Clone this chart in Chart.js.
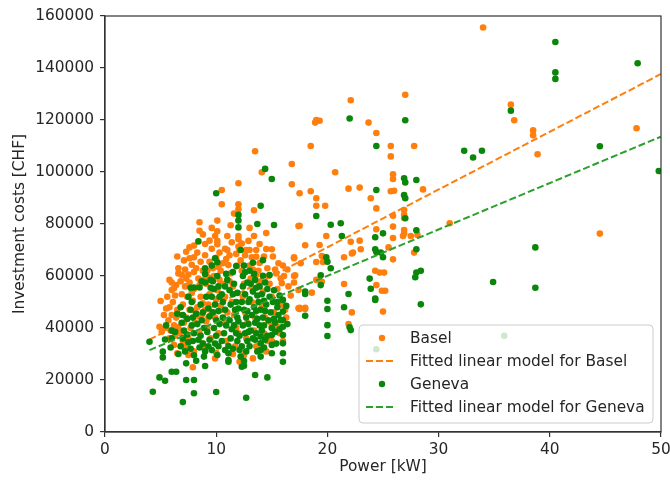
<!DOCTYPE html>
<html>
<head>
<meta charset="utf-8">
<script src="https://cdn.jsdelivr.net/npm/chart.js@4.4.0/dist/chart.umd.min.js"></script>
<style>
  html, body { margin: 0; padding: 0; background: #fff; }
  #wrap { width: 670px; height: 480px; }
</style>
</head>
<body>
<div id="wrap"><canvas id="grafik" width="670" height="480"></canvas></div>
<script>
// Basel installations [power kW, cost CHF]
const basel = [
  [34.0,155600],[22.1,127600],[27.0,129700],[19.0,120000],[19.3,119700],[18.9,119000],[23.7,119000],
  [24.4,115000],[18.5,110000],[25.7,110000],[27.8,110000],[25.7,106000],[36.5,125900],[36.8,119900],
  [38.5,116000],[38.5,114100],[38.9,106800],[47.8,116800],[44.5,76300],[13.5,108000],
  [16.8,103100],[20.7,99900],[16.8,95300],[25.9,99100],[25.9,97300],[21.9,93600],[22.9,94000],
  [25.7,92600],[26.0,92800],[28.6,93300],[17.5,91800],[18.5,92600],[19.0,89900],[19.0,87000],
  [19.8,87000],[23.9,89900],[24.4,86000],[26.9,85400],[26.9,83500],[25.9,83200],[26.9,82300],
  [17.5,79300],[25.9,79000],[24.4,78000],[26.9,77700],[26.9,76400],[26.8,75400],[19.9,75400],
  [25.9,74600],[27.5,75400],[28.1,75800],[31.0,80300],[22.1,73200],[22.9,73600],[18.0,71800],
  [19.3,71900],[22.3,69000],[23.0,70300],[25.5,71000],[27.8,69000],[17.0,67200],[17.6,64900],
  [19.0,65400],[19.5,67700],[19.6,65400],[21.5,67200],[22.2,68700],[25.9,66400],[24.3,62000],
  [24.7,61300],[25.1,61300],[17.1,60300],[19.0,58500],[19.5,57800],[21.5,56900],[24.4,56500],
  [24.9,54300],[25.2,54300],[18.6,53600],[17.5,47800],[18.0,47800],[17.5,47300],[18.0,47300],
  [22.2,46000],[21.9,41500],[25.0,46300],
  [14.1,99900],[12.0,95700],[10.5,93100],[12.0,87600],[12.0,85700],[10.5,87600],[13.4,85300],
  [8.5,80700],[8.5,77400],[10.1,81300],[17.4,79200],[10.1,77200],[9.9,75400],[11.0,75400],
  [12.0,75400],[12.0,74100],[9.4,73600],[9.0,72300],[8.0,71700],[10.1,73500],[10.1,72200],
  [12.9,73500],[13.4,75400],[13.9,72300],[12.0,71300],[12.1,70000],[7.3,69300],[7.6,66800],
  [8.0,67200],[7.8,64300],[12.7,70000],[13.6,70000],[14.5,70400],[15.0,70300],[10.6,64900],
  [11.1,64200],[13.2,67200],[13.6,67400],[15.6,64900],[16.0,64000],[17.0,66800],[6.6,61000],
  [7.5,60600],[17.0,60000],[15.9,57200],[6.4,56500],[6.2,55300],[6.0,54600],[5.0,50400],
  [17.4,54600],[7.9,24900],[4.9,40500],[5.1,38600],[6.5,30300],[7.5,29600],[9.9,28300],
  [13.3,28300],[15.0,40500],[14.8,42400],[16.0,48800],[17.4,47600],[15.7,38000],[12.1,27000],
  [5.6,52000],[5.8,48000],[6.0,45000],[5.7,43000],[6.2,41000],[5.9,39000],[6.3,37000],[6.1,50000],
  [6.5,47000],[6.8,58000],[6.9,53000],[7.0,49000],[6.7,45000],[7.1,42000],[6.8,38000],[7.0,35000],
  [7.2,56000],[7.4,52000],[7.6,47000],[7.3,44000],[7.7,40000],[7.5,36000],[7.4,33000],
  [8.2,63000],[8.4,59000],[8.0,55000],[8.6,52000],[8.3,48000],[8.7,45000],[8.1,42000],[8.5,38000],
  [8.8,34000],[9.0,68000],[9.2,62000],[9.1,57000],[9.4,53000],[9.3,49000],[9.6,46000],[9.2,40000],
  [9.5,36000],[9.8,60000],[9.7,55000],[10.0,51000],[9.9,44000],[10.2,38000],[10.3,69000],
  [10.4,62000],[10.6,57000],[10.8,52000],[10.5,47000],[10.7,42000],[10.9,35000],
  [11.2,68000],[11.3,61000],[11.5,56000],[11.4,50000],[11.6,45000],[11.8,40000],[11.7,33000],
  [12.2,66000],[12.3,62000],[12.5,57000],[12.4,52000],[12.6,46000],[12.8,42000],[12.7,36000],
  [13.0,64000],[13.1,59000],[13.3,55000],[13.2,50000],[13.5,44000],[13.4,39000],[13.6,33000],
  [13.8,62000],[14.0,58000],[14.2,54000],[14.1,48000],[14.4,44000],[14.3,38000],[14.6,63000],
  [14.8,57000],[15.0,52000],[15.2,46000],[15.4,61000],[15.5,55000],[15.8,50000],[16.3,44000],
  [16.5,56000],[16.1,60000],[7.0,33000],[8.0,31000],[9.0,32000],[10.0,30500],[11.5,30000],
  [12.5,29500],[14.5,31000],[16.0,35000],[15.0,35000],
  [5.3,45000],[5.5,47500],[5.4,40000],[5.8,36000],[6.0,57500],[6.3,52500],[6.4,44000],[6.6,40000],
  [6.6,63000],[6.9,60500],[7.1,66000],[7.2,62500],[7.3,59000],[7.6,57500],[7.8,53500],[7.9,50500],
  [8.1,46500],[8.3,44500],[8.0,61500],[8.3,69000],[8.6,65500],[8.8,62000],[8.9,58500],[8.5,56500],
  [8.8,49500],[9.0,47000],[9.3,44000],[9.1,42500],[9.4,65500],[9.6,70500],[9.7,63000],[9.3,59500],
  [10.0,67000],[10.2,63500],[10.3,58500],[10.1,54500],[10.4,48500],[10.9,66500],[11.0,70000],
  [11.4,73000],[11.2,58000],[11.8,68500],[11.9,64000],[12.3,72500],[12.6,68000],[13.0,70000],
  [13.3,62500],[13.6,60500],[13.9,65000],[14.3,67500],[14.7,60000],[15.1,67500],[15.3,62500],
  [15.8,59000],[16.4,62500],[16.7,52500],[17.0,57500],[16.2,47000],[15.5,40500],[14.6,35000],
  [12.0,38000],[11.0,46000],[6.2,33500],[5.8,58500],[6.5,67500],[7.6,71000],[8.8,76000],
  [9.6,78500],[11.3,79500],[11.6,84000],[13.0,78500],[14.5,76500],[10.8,70500]
];

// Geneva installations [power kW, cost CHF]
const geneva = [
  [22.0,120600],[27.0,119900],[24.4,110000],[32.3,108200],[33.1,105600],[33.9,108200],[40.5,150000],
  [47.9,141800],[40.5,138300],[40.5,135800],[36.5,123600],[44.5,109900],[49.8,100400],[38.7,71000],
  [34.9,57700],[38.7,55500],[35.9,37000],[24.4,31800],
  [26.9,97600],[27.0,96000],[28.0,96900],[24.4,93100],[26.9,91100],[27.0,89900],[19.0,83100],
  [27.0,82200],[20.3,79700],[21.2,80300],[28.0,77600],[25.0,76400],[24.3,74900],[21.3,75400],
  [24.3,70300],[24.4,69200],[24.8,69000],[25.0,67200],[28.0,70300],[19.9,67200],[20.0,65500],
  [20.3,63000],[28.0,61300],[28.4,62000],[27.9,59500],[19.4,60300],[19.4,56500],[23.8,59000],
  [23.9,55100],[24.3,51300],[21.9,53100],[18.0,54000],[18.0,53100],[20.0,50500],[20.0,47300],
  [21.5,48000],[28.4,49100],[18.0,44700],[20.0,41100],[20.0,36900],[22.0,40300],[22.1,39200],
  [24.3,50800],
  [14.4,101200],[15.0,97300],[10.0,91800],[12.0,83500],[14.0,87000],[12.0,81300],[12.0,78700],
  [13.7,80000],[15.2,79600],[8.4,73300],[12.2,70000],[9.9,66800],[10.1,65300],[13.3,65100],
  [14.2,66100],[11.8,63800],[9.0,63000],[9.0,60800],[10.1,60000],[10.9,60800],[11.0,58500],
  [12.4,60000],[12.6,61400],[13.4,60800],[13.5,58500],[14.2,60100],[14.8,60400],[8.0,55600],
  [8.5,55600],[16.0,50800],[7.5,52000],
  [4.0,34700],[4.3,15500],[4.9,21000],[5.4,19700],[6.0,23200],[6.4,23200],[7.0,11500],[7.3,20000],
  [8.0,20000],[8.0,14900],[9.0,25400],[10.0,15400],[12.7,13200],[13.5,21900],[14.6,21000],
  [12.3,25100],[12.5,25500],[5.2,28700],[5.2,30900],[7.3,26400],[8.2,27400],[5.4,35600],
  [6.0,36000],[10.1,29600],[11.1,27700],[12.5,27300],[14.0,29000],[14.0,31500],[14.0,34100],
  [14.0,36700],[15.0,33500],[15.0,30300],[15.0,37300],[16.0,46300],[16.0,43100],[16.0,40500],
  [16.0,37300],[16.0,34100],[16.0,30300],[16.0,27000],[11.1,33100],[11.1,30300],[11.1,27000],
  [12.1,31500],[5.5,41000],[6.0,39000],
  [6.8,48000],[7.0,45000],[6.9,42000],[7.1,39000],[7.0,36000],[6.8,33000],[7.2,31000],
  [7.8,50000],[7.7,47000],[7.9,44000],[7.8,41000],[8.0,38000],[7.9,35000],[7.7,32000],[8.0,29500],
  [8.6,49000],[8.8,46000],[8.7,43000],[8.9,40000],[8.6,37000],[8.8,34000],[9.0,31000],[9.1,52000],
  [9.6,64000],[9.7,58000],[9.8,55000],[9.6,52000],[9.9,49000],[9.7,46000],[10.0,43000],
  [9.8,40000],[10.0,37000],[9.9,34000],[9.6,31500],
  [10.5,53000],[10.6,50000],[10.8,47000],[10.6,44000],[10.9,41000],[10.7,38000],[10.5,35000],
  [11.6,57000],[11.5,53000],[11.8,50000],[11.7,47000],[11.9,44000],[11.6,41000],[11.8,38000],
  [11.9,35000],[11.5,32000],
  [12.4,56000],[12.6,53000],[12.3,50000],[12.5,47000],[12.7,44000],[12.4,41000],[12.6,38000],
  [12.8,35000],[12.3,33000],
  [13.1,57000],[13.3,54000],[13.0,51000],[13.4,48000],[13.2,45000],[13.5,42000],[13.1,39000],
  [13.3,36000],[13.0,33000],
  [13.9,56000],[14.1,53000],[13.8,50000],[14.0,47000],[14.2,44000],[13.9,41000],[14.1,39000],
  [14.6,55000],[14.8,52000],[14.5,49000],[14.9,46000],[14.7,43000],[15.0,40000],[14.6,37000],
  [15.5,48000],[15.6,45000],[15.3,42000],[15.5,50000],
  [7.4,43500],[7.4,37500],[7.5,34500],[8.2,45500],[8.3,41500],[8.4,35500],[8.5,32500],[8.9,29000],
  [9.3,47500],[9.4,44500],[9.2,38500],[9.4,35500],[9.3,33000],[9.5,58500],[9.5,55500],[10.2,56000],
  [10.3,52000],[10.2,46500],[10.3,41500],[10.2,33000],[10.8,56000],[10.8,31500],[11.2,54500],
  [11.3,49000],[11.2,43000],[11.4,39500],[11.3,36000],[11.9,53500],[12.0,47500],[12.0,42500],
  [12.1,37000],[12.2,29000],[12.8,57500],[12.9,50000],[12.8,46500],[12.9,41500],[12.9,38500],
  [12.7,31000],[13.6,55500],[13.7,52500],[13.6,46500],[13.7,43500],[13.6,38000],[13.5,35500],
  [13.7,31000],[14.4,57500],[14.3,50500],[14.4,46500],[14.3,41000],[14.4,35500],[14.3,32500],
  [15.2,54500],[15.1,50000],[15.2,43500],[15.3,38500],[15.4,34000],[15.7,52500],[15.8,43000],
  [15.7,39500],[16.4,41500],[16.3,48500],[6.5,45500],[6.3,38500],[6.6,30000],[5.9,32500],
  [7.7,55500],[8.7,58000],[9.0,57500],[11.5,61500],[12.5,64000],[13.0,62000]
];

// fitted linear models, evaluated at the ends of the fitted range
const fitKw = [4, 50];
const baselFitChf = [35500, 137700];
const genevaFitChf = [31500, 113600];

const xTicks = [0, 10, 20, 30, 40, 50];
const yTicks = [0, 20000, 40000, 60000, 80000, 100000, 120000, 140000, 160000];

const orange = "#ff7f0e";
const green = "#0a870a";
const greenLine = "#2ca02c";
const textColor = "#262626";
const fontFamily = "'DejaVu Sans', sans-serif";
const labelFont = { family: fontFamily, size: 15.4 };

const toPoints = arr => arr.map(p => ({ x: p[0], y: p[1] }));
const fitPoints = ys => fitKw.map((x, i) => ({ x: x, y: ys[i] }));

// legend box inside the plot + top/right spines
const frameAndLegend = {
  id: "frameAndLegend",
  afterDraw(chart) {
    const ctx = chart.ctx;
    const a = chart.chartArea;
    ctx.save();
    ctx.strokeStyle = "#333";
    ctx.lineWidth = 1.2;
    ctx.strokeRect(a.left, a.top, a.right - a.left, a.bottom - a.top);

    const w = 294, h = 98;
    const bx = a.right - 8 - w, by = a.bottom - 9 - h;
    ctx.beginPath();
    ctx.roundRect(bx, by, w, h, 4);
    ctx.fillStyle = "rgba(255,255,255,0.8)";
    ctx.fill();
    ctx.strokeStyle = "#cccccc";
    ctx.lineWidth = 1;
    ctx.stroke();

    ctx.font = "15.4px " + fontFamily;
    ctx.textBaseline = "middle";
    ctx.textAlign = "left";
    chart.data.datasets.forEach((ds, i) => {
      const cy = by + 13 + i * 23;
      if (ds.showLine) {
        ctx.strokeStyle = ds.borderColor;
        ctx.lineWidth = 2;
        ctx.setLineDash([7, 3]);
        ctx.beginPath();
        ctx.moveTo(bx + 7, cy);
        ctx.lineTo(bx + 37, cy);
        ctx.stroke();
        ctx.setLineDash([]);
      } else {
        ctx.fillStyle = ds.backgroundColor;
        ctx.beginPath();
        ctx.arc(bx + 23, cy, 3.2, 0, Math.PI * 2);
        ctx.fill();
      }
      ctx.fillStyle = textColor;
      ctx.fillText(ds.label, bx + 51, cy + 1);
    });
    ctx.restore();
  }
};

Chart.defaults.font.family = fontFamily;
Chart.defaults.font.size = 15.4;
Chart.defaults.color = textColor;

new Chart(document.getElementById("grafik").getContext("2d"), {
  type: "scatter",
  data: {
    datasets: [
      { label: "Basel", data: toPoints(basel), backgroundColor: orange, borderWidth: 0,
        pointRadius: 3.3, order: 4 },
      { label: "Fitted linear model for Basel", data: fitPoints(baselFitChf), showLine: true,
        borderColor: orange, borderWidth: 2, borderDash: [7, 3], pointRadius: 0, order: 3 },
      { label: "Geneva", data: toPoints(geneva), backgroundColor: green, borderWidth: 0,
        pointRadius: 3.3, order: 2 },
      { label: "Fitted linear model for Geneva", data: fitPoints(genevaFitChf), showLine: true,
        borderColor: greenLine, borderWidth: 2, borderDash: [7, 3], pointRadius: 0, order: 1 }
    ]
  },
  options: {
    responsive: false,
    animation: false,
    layout: { padding: { top: 16, right: 9, left: 0, bottom: 0 } },
    plugins: { legend: { display: false }, tooltip: { enabled: false } },
    scales: {
      x: {
        type: "linear", min: 0, max: 50,
        afterBuildTicks: s => { s.ticks = xTicks.map(v => ({ value: v })); },
        afterFit: s => { s.height = 48; s.paddingLeft = 0; s.paddingRight = 0; },
        ticks: { padding: 4, maxRotation: 0, font: labelFont, callback: v => String(v) },
        grid: { drawOnChartArea: false, drawTicks: true, tickLength: 5, color: "#333", lineWidth: 1.2 },
        border: { display: true, color: "#333", width: 1.2 },
        title: { display: true, text: "Power [kW]", font: labelFont, padding: { top: 0, bottom: 4 } }
      },
      y: {
        type: "linear", min: 0, max: 160000,
        afterBuildTicks: s => { s.ticks = yTicks.map(v => ({ value: v })); },
        afterFit: s => { s.width = 105; s.paddingTop = 0; s.paddingBottom = 0; },
        ticks: { padding: 6, font: labelFont, callback: v => String(v) },
        grid: { drawOnChartArea: false, drawTicks: true, tickLength: 5, color: "#333", lineWidth: 1.2 },
        border: { display: true, color: "#333", width: 1.2 },
        title: { display: true, text: "Investment costs [CHF]", font: labelFont, padding: { top: 11, bottom: 0 } }
      }
    }
  },
  plugins: [frameAndLegend]
});
</script>
</body>
</html>
